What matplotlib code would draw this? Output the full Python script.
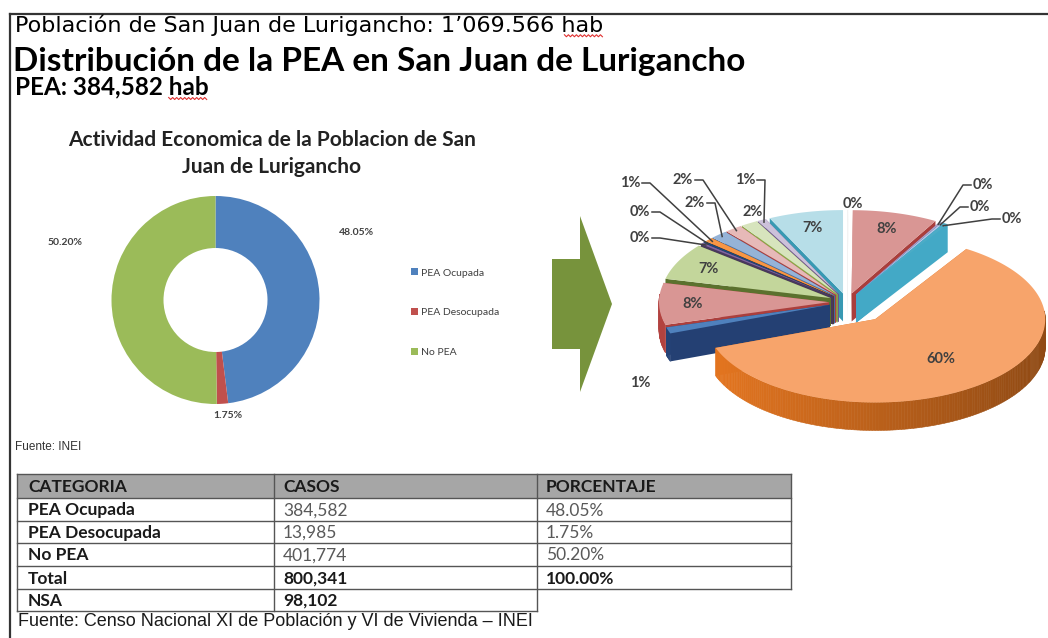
import numpy as np
import matplotlib.pyplot as plt
from matplotlib.patches import Polygon, Rectangle, FancyArrow, Patch
from matplotlib.colors import to_rgb

plt.rcParams['font.family'] = ['Lato', 'DejaVu Sans']

# ---- data ----
donut_labels = ['PEA Ocupada', 'PEA Desocupada', 'No PEA']
donut_pct = [48.05, 1.75, 50.20]
donut_colors = ['#4F81BD', '#C0504D', '#9BBB59']

table_header = ['CATEGORIA', 'CASOS', 'PORCENTAJE']
table_cat = ['PEA Ocupada', 'PEA Desocupada', 'No PEA', 'Total', 'NSA']
table_casos = ['384,582', '13,985', '401,774', '800,341', '98,102']
table_pct = ['48.05%', '1.75%', '50.20%', '100.00%', '']
table_bold = [False, False, False, True, True]

# 3d pie slices, clockwise from 12 o'clock
pie_vals = [0.1, 8.0, 0.2, 0.2, 0.4, 59.6, 1.2, 8.0, 7.0, 0.3, 0.3, 0.8, 1.6, 1.6, 1.6, 0.8, 7.0]
pie_top = ['#F2F2F2', '#D99694', '#B3A2C7', '#B9CDE5', '#4BACC6', '#F7A46B', '#4F81BD', '#D99694',
           '#C3D69B', '#8064A2', '#1F497D', '#F79646', '#95B3D7', '#E6B9B8', '#D7E4BD', '#CCC1DA', '#B7DEE8']
pie_side = ['#BFBFBF', '#943634', '#604A7B', '#4F81BD', '#3A93AC', '#C0631B', '#1F3864', '#953735',
            '#4F6228', '#3F3151', '#10253F', '#984807', '#366092', '#953735', '#77933C', '#604A7B', '#31859C']

fig = plt.figure(figsize=(10.48, 6.38), dpi=100)
ax = fig.add_axes([0, 0, 1, 1])
ax.set_xlim(0, 1048)
ax.set_ylim(638, 0)
ax.axis('off')

# frame
ax.plot([10, 1048], [14, 14], color='#333333', lw=1.6)
ax.plot([10, 10], [14, 638], color='#333333', lw=1.6)

# headings
t1 = ax.text(15, 25, "Población de San Juan de Lurigancho: 1’069.566 hab", fontsize=16,
             va='center', ha='left', color='black', family=['DejaVu Sans'])
ax.text(13, 61, "Distribución de la PEA en San Juan de Lurigancho", fontsize=24,
        fontweight='bold', va='center', ha='left', color='black')
t3 = ax.text(15, 87, "PEA: 384,582 hab", fontsize=17.5, fontweight='bold', va='center', ha='left')

fig.canvas.draw()
rend = fig.canvas.get_renderer()


def squiggle(txt, nchar, dy):
    bb = txt.get_window_extent(rend).transformed(ax.transData.inverted())
    n = len(txt.get_text())
    x1 = bb.x1
    x0 = x1 - (bb.x1 - bb.x0) * nchar / n
    y = max(bb.y0, bb.y1) + dy
    xs = np.arange(x0, x1, 2.0)
    ys = y + np.where(np.arange(len(xs)) % 2 == 0, -1, 1)
    ax.plot(xs, ys, color='#E03030', lw=0.8)


squiggle(t1, 3.3, 0)
squiggle(t3, 3.3, 0)

# donut chart
ax.text(272, 140, "Actividad Economica de la Poblacion de San", fontsize=15, fontweight='bold',
        ha='center', va='center', color='#222222')
ax.text(272, 167, "Juan de Lurigancho", fontsize=15, fontweight='bold',
        ha='center', va='center', color='#222222')

dcx, dcy, dr = 215.5, 300, 104
dax = fig.add_axes([(dcx - dr) / 1048, 1 - (dcy + dr) / 638, 2 * dr / 1048, 2 * dr / 638])
dax.pie(donut_pct, colors=donut_colors, startangle=90, counterclock=False,
        wedgeprops=dict(width=0.5, linewidth=0))
dax.set_xlim(-1, 1)
dax.set_ylim(-1, 1)
dax.axis('off')
donut_lbl_xy = [(1.36, 0.65), (0.12, -1.11), (-1.45, 0.55)]
for (lx, ly), p in zip(donut_lbl_xy, donut_pct):
    dax.text(lx, ly, f"{p:.2f}%", fontsize=7.5, fontweight='bold', color='#404040',
             ha='center', va='center')

handles = [Patch(facecolor=c, edgecolor='none') for c in donut_colors]
fig.legend(handles, donut_labels, loc='upper left', bbox_to_anchor=(402 / 1048, 1 - 259 / 638),
           frameon=False, fontsize=7.5, handlelength=0.65, handleheight=0.65, handletextpad=0.3,
           labelspacing=2.95, labelcolor='#404040')

ax.text(15, 447, "Fuente: INEI", fontsize=8.5, family=['Liberation Sans'], va='center', color='#333333')

# arrow
ax.add_patch(FancyArrow(552, 304, 60, 0, width=90, head_width=176, head_length=32,
                        length_includes_head=True, color='#77933C', lw=0))

# 3d exploded pie
cx, cy = 847, 302
R, tilt, depth = 170, 0.49, 28
explode = [45 if v > 30 else 18 for v in pie_vals]

fr = np.array(pie_vals) / sum(pie_vals)
ends = 90 - 360 * np.cumsum(fr)
starts = ends + 360 * fr
mids = np.radians((starts + ends) / 2)


def shade(col, f):
    return tuple(np.clip(np.array(to_rgb(col)) * f, 0, 1))


order = sorted(range(len(pie_vals)), key=lambda i: -np.sin(mids[i]))
z = 3
geo = {}
for i in order:
    a0, a1 = np.radians(starts[i]), np.radians(ends[i])
    e = explode[i]
    ou, ov = e * np.cos(mids[i]), e * np.sin(mids[i])
    t = np.linspace(a1, a0, max(3, int(abs(starts[i] - ends[i])) + 2))
    rx = cx + ou + R * np.cos(t)
    ry = cy - (ov + R * np.sin(t)) * tilt
    apx, apy = cx + ou, cy - ov * tilt
    geo[i] = (ou, ov)
    # radial faces
    for k in (0, -1):
        ax.add_patch(Polygon([(apx, apy), (rx[k], ry[k]), (rx[k], ry[k] + depth), (apx, apy + depth)],
                             closed=True, facecolor=shade(pie_side[i], 1.15), edgecolor='none', zorder=z))
    z += 1
    # outer rim
    for k in range(len(t) - 1):
        tm = (t[k] + t[k + 1]) / 2
        if np.sin(tm) > 0.1:
            continue
        f = 1.2 - 0.45 * (np.cos(tm) + 1) / 2
        ax.add_patch(Polygon([(rx[k], ry[k]), (rx[k + 1], ry[k + 1]),
                              (rx[k + 1], ry[k + 1] + depth), (rx[k], ry[k] + depth)],
                             closed=True, facecolor=shade(pie_side[i], f), edgecolor=shade(pie_side[i], f),
                             lw=0.4, zorder=z))
    z += 1
    ax.add_patch(Polygon(np.column_stack([np.r_[apx, rx], np.r_[apy, ry]]), closed=True,
                         facecolor=pie_top[i], edgecolor='none', zorder=z))
    z += 1

# pie labels: None -> inside the slice
pie_lbl_xy = [(853, 204), None, (983, 185), (980, 207), (1012, 219), None, (640, 383), None, None,
              (640, 238), (640, 212), (630, 183), (695, 203), (683, 180), (753, 212), (745, 180), None]
pie_leader = [False, False, True, True, True, False, False, False, False,
              True, True, True, True, True, False, True, False]
for i, v in enumerate(pie_vals):
    lbl = f"{round(v):d}%"
    ou, ov = geo[i]
    if pie_lbl_xy[i] is None:
        rf = 0.62 if v > 30 else 0.8
        lx = cx + ou + rf * R * np.cos(mids[i])
        ly = cy - (ov + rf * R * np.sin(mids[i])) * tilt
        ax.text(lx, ly, lbl, fontsize=10.5, fontweight='bold', color='#404040',
                ha='center', va='center', zorder=200)
        continue
    lx, ly = pie_lbl_xy[i]
    ax.text(lx, ly, lbl, fontsize=10.5, fontweight='bold', color='#404040',
            ha='center', va='center', zorder=200)
    if pie_leader[i]:
        px = cx + ou + 0.97 * R * np.cos(mids[i])
        py = cy - (ov + 0.97 * R * np.sin(mids[i])) * tilt
        side = 1 if px > lx else -1
        sx = lx + side * 12
        ax.plot([sx, sx + side * 8, px], [ly, ly, py], color='#404040', lw=1.1, zorder=199)

# table
col_x = [17, 274, 537, 791]
row_y = [474, 498, 521, 543, 566, 589, 611]
ax.add_patch(Rectangle((col_x[0], row_y[0]), col_x[3] - col_x[0], row_y[1] - row_y[0],
                       facecolor='#A6A6A6', edgecolor='none'))
for j, h in enumerate(table_header):
    ax.text(col_x[j] + 11 - 2 * (j > 0), (row_y[0] + row_y[1]) / 2 + 1, h, fontsize=12.5,
            fontweight='bold', va='center', ha='left', color='#1A1A1A')
cols = [table_cat, table_casos, table_pct]
for r in range(len(table_cat)):
    yc = (row_y[r + 1] + row_y[r + 2]) / 2 + 1
    for j in range(3):
        txt = cols[j][r]
        if not txt:
            continue
        bold = j == 0 or table_bold[r]
        ax.text(col_x[j] + 11 - 2 * (j > 0), yc, txt, fontsize=12.5,
                fontweight='bold' if bold else 'normal',
                va='center', ha='left', color='#1A1A1A' if bold else '#595959')
lc = '#555555'
for k, y in enumerate(row_y):
    x1 = col_x[3] if k <= 5 else col_x[2]
    ax.plot([col_x[0], x1], [y, y], color=lc, lw=1)
for j, x in enumerate(col_x):
    y1 = row_y[6] if j < 3 else row_y[5]
    ax.plot([x, x], [row_y[0], y1], color=lc, lw=1)

ax.text(18, 622, "Fuente: Censo Nacional XI de Población y VI de Vivienda – INEI", fontsize=13,
        family=['Liberation Sans'], va='center', ha='left', color='#1A1A1A')

fig.savefig('out.png', dpi=100)
